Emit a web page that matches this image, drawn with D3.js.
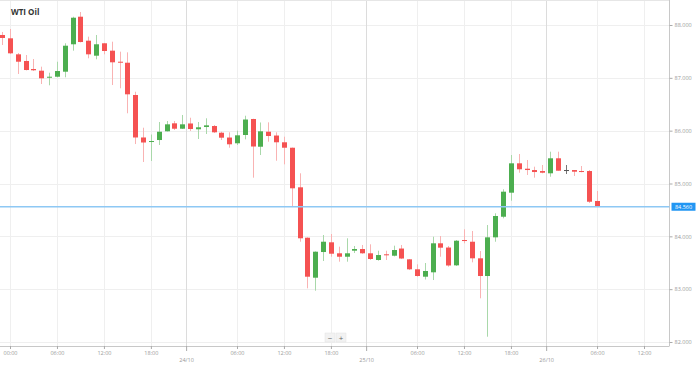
<!DOCTYPE html>
<html><head><meta charset="utf-8">
<script src="https://cdn.jsdelivr.net/npm/d3@7"></script>
<style>body{margin:0;background:#fff}svg{display:block;font-family:"Open Sans",Roboto,sans-serif}</style>
</head><body><svg id="c" width="698" height="365"></svg>
<script>
// candle index (hourly, 23 trading hours per day; index 0 = 23/10 00:00)
const candleIndex = d3.range(-1, 76);
const opens  = [87.811,87.748,87.445,87.319,87.167,87.135,87.002,87.021,87.116,87.635,88.157,87.703,87.419,87.654,87.514,87.305,87.286,86.675,85.871,85.785,85.823,85.988,86.139,86.037,86.136,86.026,86.069,86.088,85.961,85.870,85.761,85.918,86.221,85.696,85.980,85.908,85.780,85.677,84.928,83.974,83.217,83.703,83.887,83.679,83.614,83.728,83.760,83.679,83.552,83.660,83.633,83.769,83.565,83.376,83.236,83.319,83.868,83.788,83.451,83.930,83.898,83.584,83.249,83.981,84.371,84.826,85.382,85.280,85.255,85.236,85.193,85.477,85.255,85.255,85.236,85.236,84.669];
const highs  = [87.868,87.924,87.470,87.432,87.356,87.211,87.097,87.305,87.654,88.157,88.246,87.779,87.811,87.660,87.684,87.495,87.483,86.737,86.056,85.927,86.164,86.183,86.183,86.297,86.245,86.164,86.234,86.107,85.980,85.969,86.000,86.283,86.226,86.155,86.158,85.969,85.886,85.680,85.193,83.980,83.715,84.025,84.044,83.804,83.963,83.817,83.836,83.849,83.728,83.728,83.823,83.836,83.571,83.470,83.495,83.993,84.006,83.817,83.930,84.133,84.101,83.722,84.214,84.436,84.890,85.539,85.558,85.445,85.318,85.350,85.602,85.602,85.350,85.255,85.331,85.255,84.858];
const lows   = [87.621,87.450,87.073,87.140,87.130,86.883,86.859,87.010,87.010,87.514,87.670,87.370,87.351,87.445,86.864,86.802,86.329,85.747,85.407,85.426,85.729,85.984,86.013,86.031,85.994,85.842,85.937,85.956,85.823,85.677,85.729,85.836,85.110,85.539,85.791,85.431,85.363,84.561,83.898,83.016,82.971,83.533,83.614,83.520,83.520,83.684,83.670,83.552,83.539,83.552,83.620,83.570,83.362,83.236,83.183,83.173,83.614,83.425,83.438,83.868,83.508,82.827,82.100,83.898,84.341,84.674,85.204,85.161,85.110,85.193,85.128,85.242,85.180,85.142,85.212,84.631,84.560];
const closes = [87.754,87.464,87.305,87.148,87.143,86.991,87.021,87.129,87.608,88.138,87.678,87.445,87.635,87.508,87.294,87.286,86.688,85.871,85.776,85.804,85.980,86.120,86.037,86.120,86.031,86.064,86.101,85.969,85.867,85.742,85.912,86.211,85.700,85.988,85.899,85.780,85.677,84.909,83.963,83.236,83.709,83.898,83.671,83.614,83.679,83.760,83.679,83.571,83.646,83.641,83.741,83.580,83.376,83.249,83.344,83.868,83.785,83.448,83.917,83.911,83.584,83.249,83.981,84.385,84.845,85.382,85.269,85.255,85.217,85.204,85.477,85.242,85.255,85.223,85.217,84.655,84.560];
const yTicks = [88, 87, 86, 85, 84, 83, 82];
const timeTickPos = [0, 6, 12, 18, 29, 35, 41, 52, 58, 64, 75, 81];
const timeTickLabels = ["00:00","06:00","12:00","18:00","06:00","12:00","18:00","06:00","12:00","18:00","06:00","12:00"];
const dateTickPos = [22.5, 45.5, 68.5];
const dateTickLabels = ["24/10","25/10","26/10"];
const lastPrice = 84.56;
const title = "WTI Oil";

const svg = d3.select("#c");
const W = 669.5, H = 346;
const x = d3.scaleLinear().domain([0, 81]).range([10, 644]);
const y = d3.scaleLinear().domain([82, 88]).range([342, 25]);

// grid
const g = svg.append("g");
g.selectAll("line.hy").data(yTicks).join("line")
  .attr("x1", 0).attr("x2", W).attr("y1", d => Math.round(y(d)) + 0.5).attr("y2", d => Math.round(y(d)) + 0.5)
  .attr("stroke", "#efefef");
g.selectAll("line.vx").data(timeTickPos).join("line")
  .attr("x1", d => Math.round(x(d)) + 0.5).attr("x2", d => Math.round(x(d)) + 0.5).attr("y1", 0).attr("y2", H)
  .attr("stroke", "#efefef");
g.selectAll("line.vd").data(dateTickPos).join("line")
  .attr("x1", d => Math.round(x(d)) + 0.5).attr("x2", d => Math.round(x(d)) + 0.5).attr("y1", 0).attr("y2", H)
  .attr("stroke", "#dcdcdc");

// frame
svg.append("line").attr("x1", 0).attr("x2", W).attr("y1", 0.5).attr("y2", 0.5).attr("stroke", "#e6e6e6");
svg.append("line").attr("x1", W).attr("x2", W).attr("y1", 0).attr("y2", H).attr("stroke", "#c8c8c8");
svg.append("line").attr("x1", 0).attr("x2", W).attr("y1", H + 0.5).attr("y2", H + 0.5).attr("stroke", "#c8c8c8");

// y axis
const ya = svg.append("g").attr("transform", `translate(${W},0)`)
  .call(d3.axisRight(y).tickValues(yTicks).tickSize(3).tickFormat(d3.format(".3f")));
ya.select(".domain").remove();
ya.selectAll(".tick line").attr("stroke", "#aaa");
ya.selectAll(".tick text").attr("fill", "#999").attr("font-size", "5.5px").attr("x", 5).attr("font-family", "Open Sans, sans-serif");

// x axis
const xa = svg.append("g").attr("transform", `translate(0,${H})`)
  .call(d3.axisBottom(x).tickValues(timeTickPos).tickSize(3).tickFormat((d, i) => timeTickLabels[i]));
xa.select(".domain").remove();
xa.selectAll(".tick line").attr("stroke", "#aaa");
xa.selectAll(".tick text").attr("fill", "#999").attr("font-size", "5.5px").attr("y", 5).attr("font-family", "Open Sans, sans-serif");
const xd = svg.append("g").attr("transform", `translate(0,${H})`)
  .call(d3.axisBottom(x).tickValues(dateTickPos).tickSize(5).tickFormat((d, i) => dateTickLabels[i]));
xd.select(".domain").remove();
xd.selectAll(".tick line").attr("stroke", "#aaa");
xd.selectAll(".tick text").attr("fill", "#999").attr("font-size", "5.5px").attr("y", 12).attr("font-family", "Open Sans, sans-serif");

// candles
const data = candleIndex.map((i, k) => ({i, o: opens[k], h: highs[k], l: lows[k], c: closes[k]}));
const up = "#4cae4f", dn = "#f55252", flat = "#555";
const col = d => d.c > d.o ? up : (d.c < d.o ? dn : flat);
const wickCol = d => d.c > d.o ? "#a9d8aa" : (d.c < d.o ? "#f9b3b3" : "#777");
const cg = svg.append("g");
cg.selectAll("line.w").data(data).join("line")
  .attr("x1", d => Math.round(x(d.i)) + 0.5).attr("x2", d => Math.round(x(d.i)) + 0.5)
  .attr("y1", d => y(d.h)).attr("y2", d => y(d.l))
  .attr("stroke", wickCol).attr("stroke-width", 1);
const bw = 5;
cg.selectAll("rect.b").data(data).join("rect")
  .attr("x", d => Math.round(x(d.i)) + 0.5 - bw / 2)
  .attr("width", bw)
  .attr("y", d => y(Math.max(d.o, d.c)))
  .attr("height", d => Math.max(1, Math.abs(y(d.o) - y(d.c))))
  .attr("fill", col);

// last price line + badge
const ly = y(lastPrice);
svg.append("line").attr("x1", 0).attr("x2", W).attr("y1", ly).attr("y2", ly).attr("stroke", "#8ec8f4").attr("stroke-width", 1.3);
svg.append("rect").attr("x", W + 2).attr("y", ly - 4).attr("width", 24).attr("height", 8).attr("fill", "#2196f3");
svg.append("text").attr("x", W + 14).attr("y", ly + 2).attr("text-anchor", "middle").attr("fill", "#fff")
  .attr("font-size", "5.5px").text(d3.format(".3f")(lastPrice));

// title
svg.append("text").attr("x", 11).attr("y", 15).attr("font-size", "8px").attr("font-weight", "bold").attr("fill", "#333").text(title);

// zoom buttons
const zb = svg.append("g");
[["−", 325], ["+", 336]].forEach(([t, bx]) => {
  zb.append("rect").attr("x", bx).attr("y", 333).attr("width", 10).attr("height", 9).attr("fill", "#f2f2f2").attr("stroke", "#e2e2e2").attr("stroke-width", 0.5);
  zb.append("text").attr("x", bx + 5).attr("y", 340.5).attr("text-anchor", "middle").attr("font-size", "8px").attr("fill", "#666").text(t);
});
</script></body></html>
